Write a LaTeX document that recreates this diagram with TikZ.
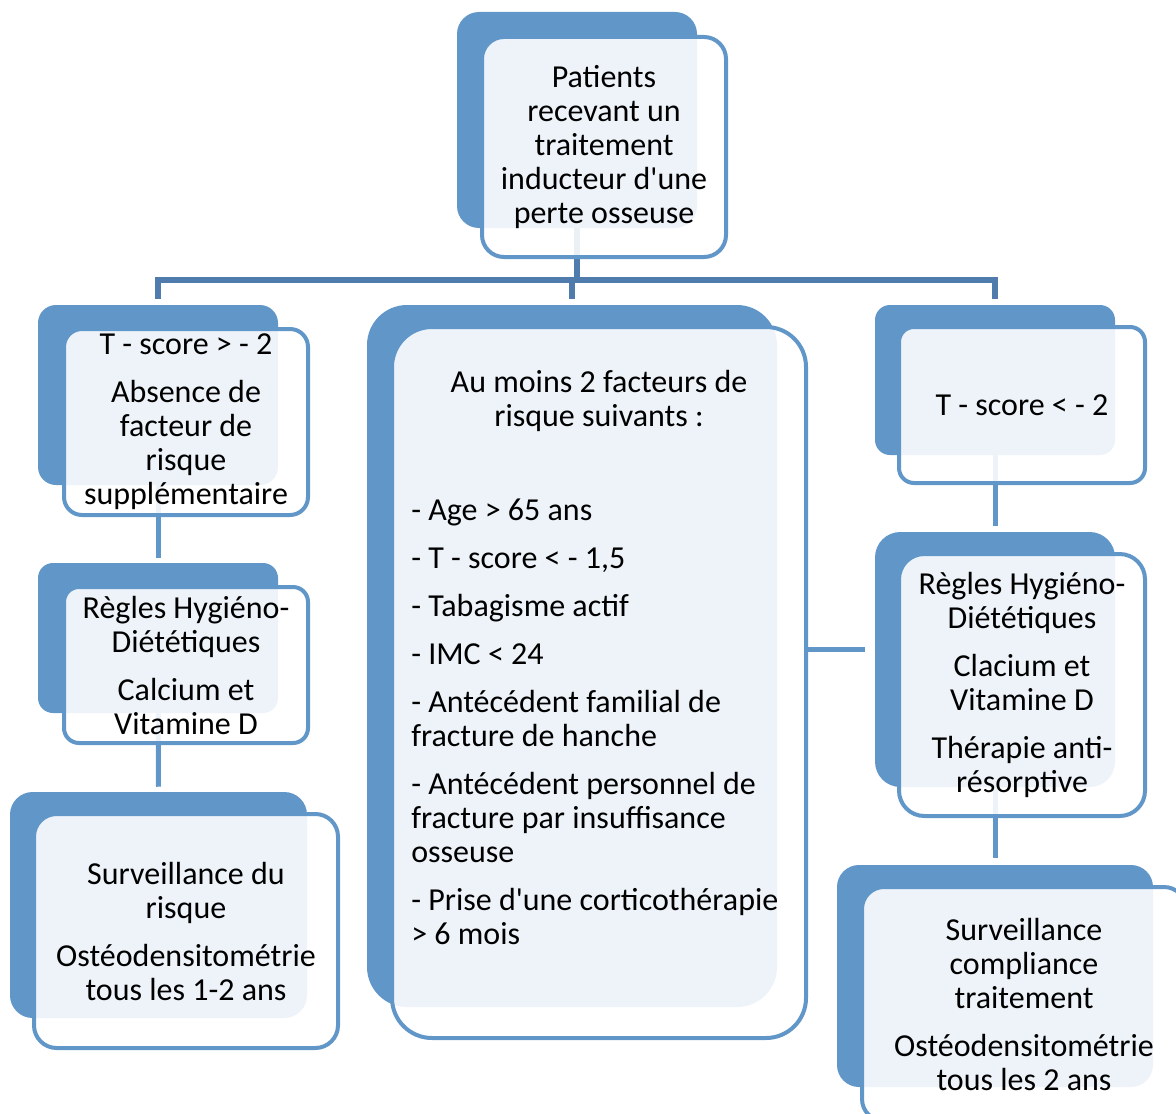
\documentclass[tikz,border=0pt]{standalone}
\usepackage{fontspec}
\setmainfont{Carlito}
\usetikzlibrary{positioning,backgrounds}
\definecolor{boxblue}{RGB}{97,150,201}
\definecolor{barblue}{RGB}{79,124,172}

\begin{document}
\begin{tikzpicture}[x=0.75pt,y=-0.75pt,
    wh/.style 2 args={minimum width=#1*0.75pt,minimum height=#2*0.75pt},
    font=\fontsize{24}{25.5}\selectfont]
    \tikzstyle{back} = [rectangle,inner sep=0pt,fill=boxblue]
    \tikzstyle{front} = [rectangle,inner sep=0pt,draw=boxblue,line width=3pt,fill=white,fill opacity=0.89,text opacity=1,align=center]
    \tikzstyle{link} = [draw=boxblue,line width=3.75pt]
    \tikzstyle{trunk} = [draw=barblue,line width=4pt]
    \useasboundingbox (0,0) rectangle (1176,1113);
    \clip (0,0) rectangle (1176,1113);
    % top box
    \node (patientsback)[back,rounded corners=16.5pt,wh={240}{216}] at (577,120) {};
    \node (patients)[front,rounded corners=16.5pt,wh={244}{220}] at (604,147) {Patients\\recevant un\\traitement\\inducteur d\textquotesingle une\\perte osseuse};
    % left column
    \node (lowriskback)[back,rounded corners=13.5pt,wh={240}{180}] at (158,395) {};
    \node (lowrisk)[front,rounded corners=13.5pt,wh={244}{186}] at (186,422) {T - score > - 2\\[10.5pt]Absence de\\facteur de\\risque\\supplémentaire};
    \node (lowdietback)[back,rounded corners=11.25pt,wh={240}{150}] at (158,638) {};
    \node (lowdiet)[front,rounded corners=11.25pt,wh={244}{156}] at (186,665) {Règles Hygiéno-\\Diététiques\\[10.5pt]Calcium et\\Vitamine D};
    \node (lowwatchback)[back,rounded corners=17pt,wh={297}{226}] at (158.5,905) {};
    \node (lowwatch)[front,rounded corners=17pt,wh={304}{234}] at (186,931) {Surveillance du\\risque\\[10.5pt]Ostéodensitométrie\\tous les 1-2 ans};
    % middle column
    \node (factorsback)[back,rounded corners=30pt,wh={410}{702}] at (572,656) {};
    \node (factors)[front,rounded corners=30pt,wh={414}{711}] at (599,682.5) {};
    \node (factorshead)[anchor=north,inner sep=0pt,align=center] at (599,370) {Au moins 2 facteurs de\\risque suivants :};
    \node (factorslist)[anchor=north west,inner sep=0pt,align=left] at (411,499) {- Age > 65 ans\\[10.5pt]- T - score < - 1,5\\[10.5pt]- Tabagisme actif\\[10.5pt]- IMC < 24\\[10.5pt]- Antécédent familial de\\fracture de hanche\\[10.5pt]- Antécédent personnel de\\fracture par insuffisance\\osseuse\\[10.5pt]- Prise d\textquotesingle une corticothérapie\\> 6 mois};
    % right column
    \node (highriskback)[back,rounded corners=11.25pt,wh={240}{150}] at (995,380) {};
    \node (highrisk)[front,rounded corners=11.25pt,wh={246}{156}] at (1022,405) {T - score < - 2};
    \node (highdietback)[back,rounded corners=19pt,wh={240}{255}] at (995,659.5) {};
    \node (highdiet)[front,rounded corners=19pt,wh={246}{262}] at (1022,685) {Règles Hygiéno-\\Diététiques\\[10.5pt]Clacium et\\Vitamine D\\[10.5pt]Thérapie anti-\\résorptive};
    \node (highwatchback)[back,rounded corners=16.5pt,wh={316}{222}] at (995,976) {};
    \node (highwatch)[front,rounded corners=16.5pt,wh={324}{234}] at (1024,1004) {Surveillance\\compliance\\traitement\\[10.5pt]Ostéodensitométrie\\tous les 2 ans};
    % connectors
    \coordinate (bar) at (577,280);
    \coordinate (side) at (0,649);
    \begin{scope}[on background layer]
        \draw [trunk] (patientsback) -- (bar);
        \draw [trunk] ([yshift=4.5pt]lowriskback.north) |- (bar) -| ([yshift=4.5pt]highriskback.north);
        \draw [trunk] (factorsback.north |- bar) -- ([yshift=4.5pt]factorsback.north);
        \draw [link] (lowriskback) -- ([yshift=3.75pt]lowdietback.north);
        \draw [link] (lowdietback) -- ([yshift=3.75pt]lowwatchback.north);
        \draw [link] (highriskback) -- ([yshift=4.5pt]highdietback.north);
        \draw [link] (highdietback) -- ([yshift=5pt]highwatchback.north);
        \draw [link] (factors.east |- side) -- ([xshift=-7.5pt]highdietback.west |- side);
    \end{scope}
\end{tikzpicture}
\end{document}
